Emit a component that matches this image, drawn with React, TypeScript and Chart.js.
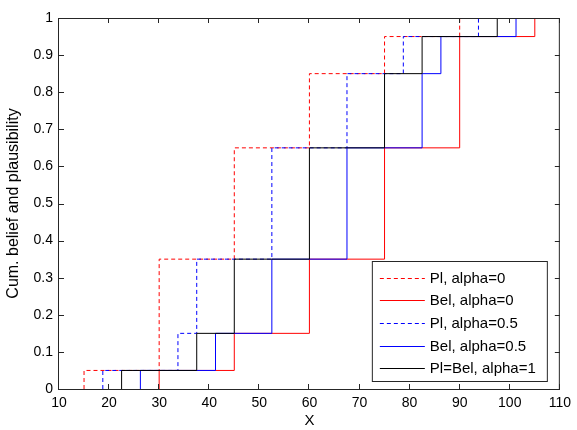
import React, { useEffect, useRef } from "react";
import { Chart, registerables } from "chart.js";

Chart.register(...registerables);

// Step positions (x where the cumulative function jumps) and levels after each jump
const plAlpha0X = [15, 30, 45, 60, 75, 90];
const plAlpha0Y = [0.05, 0.35, 0.65, 0.85, 0.95, 1];
const belAlpha0X = [30, 45, 60, 75, 90, 105];
const belAlpha0Y = [0.05, 0.15, 0.35, 0.65, 0.95, 1];
const plAlpha05X = [18.75, 33.75, 37.5, 52.5, 67.5, 78.75, 93.75];
const plAlpha05Y = [0.05, 0.15, 0.35, 0.65, 0.85, 0.95, 1];
const belAlpha05X = [26.25, 41.25, 52.5, 67.5, 82.5, 86.25, 101.25];
const belAlpha05Y = [0.05, 0.15, 0.35, 0.65, 0.85, 0.95, 1];
const plBelAlpha1X = [22.5, 37.5, 45, 60, 75, 82.5, 97.5];
const plBelAlpha1Y = [0.05, 0.15, 0.35, 0.65, 0.85, 0.95, 1];

const seriesLabels = [
  "Pl, alpha=0",
  "Bel, alpha=0",
  "Pl, alpha=0.5",
  "Bel, alpha=0.5",
  "Pl=Bel, alpha=1",
];

const xTickValues = [10, 20, 30, 40, 50, 60, 70, 80, 90, 100, 110];
const xTickLabels = ["10", "20", "30", "40", "50", "60", "70", "80", "90", "100", "110"];
const yTickValues = [0, 0.1, 0.2, 0.3, 0.4, 0.5, 0.6, 0.7, 0.8, 0.9, 1];
const yTickLabels = ["0", "0.1", "0.2", "0.3", "0.4", "0.5", "0.6", "0.7", "0.8", "0.9", "1"];

const xTitle = "X";
const yTitle = "Cum. belief and plausibility";

const FONT = "'Liberation Sans', Arial, sans-serif";
const AXIS_COLOR = "#262626";

function stepPoints(xs: number[], ys: number[]) {
  return [{ x: xs[0], y: 0 }, ...xs.map((x, i) => ({ x, y: ys[i] }))];
}

const framePlugin = {
  id: "matlabFrame",
  afterDatasetsDraw(chart: any) {
    const { ctx, chartArea } = chart;
    const { left, right, top, bottom } = chartArea;
    const xs = chart.scales.x;
    const ys = chart.scales.y;
    ctx.save();
    ctx.strokeStyle = AXIS_COLOR;
    ctx.lineWidth = 1;
    ctx.setLineDash([]);
    ctx.strokeRect(left - 0.5, top + 0.5, right - left, bottom - top);
    const tl = 5;
    ctx.beginPath();
    xTickValues.forEach((v) => {
      const px = Math.round(xs.getPixelForValue(v)) - 0.5;
      ctx.moveTo(px, bottom);
      ctx.lineTo(px, bottom - tl);
      ctx.moveTo(px, top);
      ctx.lineTo(px, top + tl);
    });
    yTickValues.forEach((v) => {
      const py = Math.round(ys.getPixelForValue(v)) + 0.5;
      ctx.moveTo(left, py);
      ctx.lineTo(left + tl, py);
      ctx.moveTo(right, py);
      ctx.lineTo(right - tl, py);
    });
    ctx.stroke();
    ctx.restore();
  },
  afterDraw(chart: any) {
    const { ctx, chartArea } = chart;
    const boxW = 175;
    const boxH = 120;
    const bx = chartArea.right - 13 - boxW;
    const by = chartArea.bottom - 8 - boxH;
    ctx.save();
    ctx.fillStyle = "#ffffff";
    ctx.fillRect(bx, by, boxW, boxH);
    ctx.strokeStyle = AXIS_COLOR;
    ctx.lineWidth = 1;
    ctx.setLineDash([]);
    ctx.strokeRect(bx + 0.5, by + 0.5, boxW, boxH);
    ctx.font = `15px ${FONT}`;
    ctx.textBaseline = "middle";
    ctx.textAlign = "left";
    chart.data.datasets.forEach((ds: any, i: number) => {
      const cy = Math.round(by + 16.5 + i * 22.7) + 0.5;
      ctx.strokeStyle = ds.borderColor;
      ctx.lineWidth = 1;
      ctx.setLineDash(ds.borderDash || []);
      ctx.beginPath();
      ctx.moveTo(bx + 8, cy);
      ctx.lineTo(bx + 53, cy);
      ctx.stroke();
      ctx.setLineDash([]);
      ctx.fillStyle = "#000000";
      ctx.fillText(ds.label, bx + 58, cy);
    });
    ctx.restore();
  },
};

export default function App() {
  const canvasRef = useRef<HTMLCanvasElement | null>(null);

  useEffect(() => {
    document.body.style.margin = "0";
    const canvas = canvasRef.current;
    if (!canvas) return;
    const dash = [4, 3];
    const chart = new Chart(canvas, {
      type: "scatter",
      data: {
        datasets: [
          { label: seriesLabels[0], data: stepPoints(plAlpha0X, plAlpha0Y), borderColor: "#ff0000", borderDash: dash, order: 4 },
          { label: seriesLabels[1], data: stepPoints(belAlpha0X, belAlpha0Y), borderColor: "#ff0000", order: 3 },
          { label: seriesLabels[2], data: stepPoints(plAlpha05X, plAlpha05Y), borderColor: "#0000ff", borderDash: dash, order: 2 },
          { label: seriesLabels[3], data: stepPoints(belAlpha05X, belAlpha05Y), borderColor: "#0000ff", order: 1 },
          { label: seriesLabels[4], data: stepPoints(plBelAlpha1X, plBelAlpha1Y), borderColor: "#000000", order: 0 },
        ].map((d) => ({
          ...d,
          showLine: true,
          stepped: true,
          borderWidth: 1,
          pointRadius: 0,
          pointHoverRadius: 0,
          fill: false,
          backgroundColor: d.borderColor,
        })),
      },
      options: {
        animation: false,
        responsive: false,
        devicePixelRatio: 1,
        layout: { padding: { top: 18, right: 13, left: 0, bottom: 0 } },
        plugins: {
          legend: { display: false },
          tooltip: { enabled: false },
        },
        scales: {
          x: {
            type: "linear",
            min: 10,
            max: 110,
            grid: { display: false, drawTicks: false },
            border: { display: false },
            afterBuildTicks: (s: any) => {
              s.ticks = xTickValues.map((v) => ({ value: v }));
            },
            afterFit: (s: any) => {
              s.height = 41;
            },
            ticks: {
              autoSkip: false,
              maxRotation: 0,
              padding: 6,
              color: "#000000",
              font: { family: FONT, size: 14 },
              callback: (_v: any, i: number) => xTickLabels[i],
            },
            title: {
              display: true,
              text: xTitle,
              color: "#000000",
              font: { family: FONT, size: 15 },
              padding: { top: 0, bottom: 0 },
            },
          },
          y: {
            type: "linear",
            min: 0,
            max: 1,
            grid: { display: false, drawTicks: false },
            border: { display: false },
            afterBuildTicks: (s: any) => {
              s.ticks = yTickValues.map((v) => ({ value: v }));
            },
            afterFit: (s: any) => {
              s.width = 59;
            },
            ticks: {
              autoSkip: false,
              padding: 6,
              color: "#000000",
              font: { family: FONT, size: 14 },
              callback: (_v: any, i: number) => yTickLabels[i],
            },
            title: {
              display: true,
              text: yTitle,
              color: "#000000",
              font: { family: FONT, size: 16 },
              padding: { top: 4, bottom: 0 },
            },
          },
        },
      },
      plugins: [framePlugin],
    });
    return () => chart.destroy();
  }, []);

  return (
    <canvas
      ref={canvasRef}
      width={577}
      height={430}
      style={{ display: "block", width: 577, height: 430 }}
    />
  );
}
